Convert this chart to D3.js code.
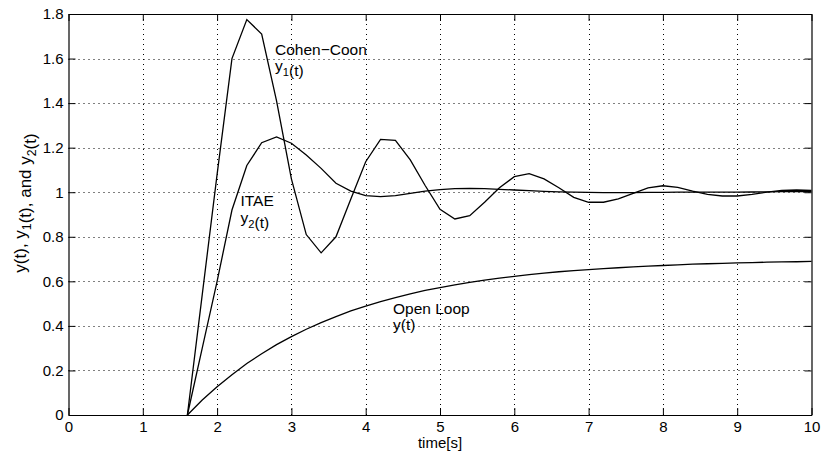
<!DOCTYPE html>
<html lang="en">
<head>
    <meta charset="UTF-8">
    <title>Step responses: open loop, Cohen-Coon, ITAE</title>
    <script src="https://d3js.org/d3.v7.min.js"></script>
    <style>
        body { margin: 0; background: #fff; }
        text { font-family: "Liberation Sans", Arial, Helvetica, sans-serif; fill: #000; }
    </style>
</head>
<body>

    <div id="chart"></div>

    <script>
        const width = 826, height = 459;
        const margin = {top: 14, right: 14.5, bottom: 44, left: 68.5};

        // sample times [s]
        const time = [0, 0.2, 0.4, 0.6, 0.8, 1.0, 1.2, 1.4, 1.6, 1.8,
                      2.0, 2.2, 2.4, 2.6, 2.8, 3.0, 3.2, 3.4, 3.6, 3.8,
                      4.0, 4.2, 4.4, 4.6, 4.8, 5.0, 5.2, 5.4, 5.6, 5.8,
                      6.0, 6.2, 6.4, 6.6, 6.8, 7.0, 7.2, 7.4, 7.6, 7.8,
                      8.0, 8.2, 8.4, 8.6, 8.8, 9.0, 9.2, 9.4, 9.6, 9.8, 10.0];

        // open loop response y(t)
        const openLoop = [0, 0, 0, 0, 0, 0, 0, 0, 0, 0.067,
                          0.127, 0.181, 0.231, 0.275, 0.316, 0.352, 0.385, 0.415, 0.442, 0.467,
                          0.489, 0.509, 0.527, 0.544, 0.559, 0.572, 0.584, 0.595, 0.605, 0.614,
                          0.622, 0.630, 0.637, 0.643, 0.648, 0.653, 0.657, 0.661, 0.665, 0.668,
                          0.671, 0.674, 0.677, 0.679, 0.681, 0.683, 0.684, 0.686, 0.687, 0.688, 0.690];

        // Cohen-Coon tuned response y1(t)
        const cohenCoon = [0, 0, 0, 0, 0, 0, 0, 0, 0, 0.54,
                           1.08, 1.60, 1.775, 1.71, 1.41, 1.06, 0.81, 0.728, 0.80, 0.97,
                           1.137, 1.237, 1.233, 1.145, 1.03, 0.923, 0.88, 0.895, 0.955, 1.02,
                           1.07, 1.083, 1.06, 1.02, 0.977, 0.955, 0.955, 0.97, 0.995, 1.02,
                           1.029, 1.022, 1.005, 0.99, 0.983, 0.983, 0.99, 1.0, 1.008, 1.01, 1.008];

        // ITAE tuned response y2(t)
        const itae = [0, 0, 0, 0, 0, 0, 0, 0, 0, 0.30,
                      0.60, 0.92, 1.12, 1.222, 1.248, 1.22, 1.167, 1.107, 1.04, 1.005,
                      0.985, 0.98, 0.985, 0.995, 1.005, 1.012, 1.016, 1.017, 1.016, 1.013,
                      1.01, 1.007, 1.004, 1.002, 1.0, 0.999, 0.998, 0.998, 0.998, 0.999,
                      0.999, 1.0, 1.0, 1.0, 1.0, 1.0, 1.001, 1.002, 1.003, 1.003, 1.003];

        const xTicks = [0, 1, 2, 3, 4, 5, 6, 7, 8, 9, 10];
        const yTicks = [0, 0.2, 0.4, 0.6, 0.8, 1.0, 1.2, 1.4, 1.6, 1.8];

        const svg = d3.select("#chart")
                      .append("svg")
                      .attr("width", width)
                      .attr("height", height);

        const x = d3.scaleLinear().domain([0, 10]).range([margin.left, width - margin.right]);
        const y = d3.scaleLinear().domain([0, 1.8]).range([height - margin.bottom, margin.top]);

        // dotted grid
        const grid = svg.append("g")
                        .attr("stroke", "#000")
                        .attr("stroke-width", 1)
                        .attr("stroke-dasharray", "1,4");
        xTicks.slice(1, -1).forEach(t => {
            grid.append("line")
                .attr("x1", Math.round(x(t)) + 0.5).attr("x2", Math.round(x(t)) + 0.5)
                .attr("y1", y(0)).attr("y2", y(1.8));
        });
        yTicks.slice(1, -1).forEach(v => {
            grid.append("line")
                .attr("x1", x(0)).attr("x2", x(10))
                .attr("y1", Math.round(y(v)) + 0.5).attr("y2", Math.round(y(v)) + 0.5);
        });

        // curves (the flat part before the dead time sits on the axis line)
        const line = d3.line()
                       .defined((d, i) => time[i] >= 1.6)
                       .x((d, i) => x(time[i]))
                       .y(d => y(d));

        [openLoop, cohenCoon, itae].forEach(series => {
            svg.append("path")
               .datum(series)
               .attr("d", line)
               .attr("fill", "none")
               .attr("stroke", "#000")
               .attr("stroke-width", 1.3);
        });

        // axes with inward ticks (all four sides)
        const tickLen = 7;
        const fmt = d => d === 0 ? "0" : (Number.isInteger(d) ? String(d) : d.toFixed(1));

        svg.append("g")
           .attr("transform", `translate(0,${y(0)})`)
           .call(d3.axisBottom(x).tickValues(xTicks).tickSizeInner(-tickLen).tickSizeOuter(0)
                   .tickPadding(6).tickFormat(fmt));
        svg.append("g")
           .attr("transform", `translate(0,${y(1.8)})`)
           .call(d3.axisTop(x).tickValues(xTicks).tickSizeInner(-tickLen).tickSizeOuter(0)
                   .tickFormat(""));
        svg.append("g")
           .attr("transform", `translate(${x(0)},0)`)
           .call(d3.axisLeft(y).tickValues(yTicks).tickSizeInner(-tickLen).tickSizeOuter(0)
                   .tickPadding(5).tickFormat(fmt));
        svg.append("g")
           .attr("transform", `translate(${x(10)},0)`)
           .call(d3.axisRight(y).tickValues(yTicks).tickSizeInner(-tickLen).tickSizeOuter(0)
                   .tickFormat(""));

        svg.selectAll(".domain").attr("stroke", "#000").attr("stroke-width", 1.2);
        svg.selectAll(".tick line").attr("stroke", "#000");
        svg.selectAll(".tick text")
           .attr("font-size", "15px")
           .attr("font-family", "Liberation Sans, Arial, sans-serif");

        // labels with subscripts
        function label(g, parts, size) {
            const t = g.append("text").attr("font-size", size + "px");
            parts.forEach(p => {
                if (p.sub) {
                    t.append("tspan").attr("font-size", (size * 0.72) + "px").attr("dy", size * 0.3).text(p.sub);
                    t.append("tspan").attr("dy", -size * 0.3).text("");
                } else {
                    t.append("tspan").text(p.t);
                }
            });
            return t;
        }

        svg.append("text").attr("x", 275).attr("y", 54.5).attr("font-size", "15.5px").text("Cohen\u2212Coon");
        label(svg, [{t: "y"}, {sub: "1"}, {t: "(t)"}], 15.5).attr("x", 275).attr("y", 71);

        svg.append("text").attr("x", 240.5).attr("y", 205.5).attr("font-size", "15.5px").text("ITAE");
        label(svg, [{t: "y"}, {sub: "2"}, {t: "(t)"}], 15.5).attr("x", 240.5).attr("y", 223);

        svg.append("text").attr("x", 393).attr("y", 313.5).attr("font-size", "15.5px").text("Open Loop");
        svg.append("text").attr("x", 393).attr("y", 330).attr("font-size", "15.5px").text("y(t)");

        svg.append("text")
           .attr("x", x(5)).attr("y", 448)
           .attr("text-anchor", "middle")
           .attr("font-size", "15px")
           .text("time[s]");

        label(svg, [{t: "y(t), y"}, {sub: "1"}, {t: "(t), and y"}, {sub: "2"}, {t: "(t)"}], 17)
           .attr("text-anchor", "middle")
           .attr("transform", `translate(26,203) rotate(-90)`);
    </script>

</body>
</html>
